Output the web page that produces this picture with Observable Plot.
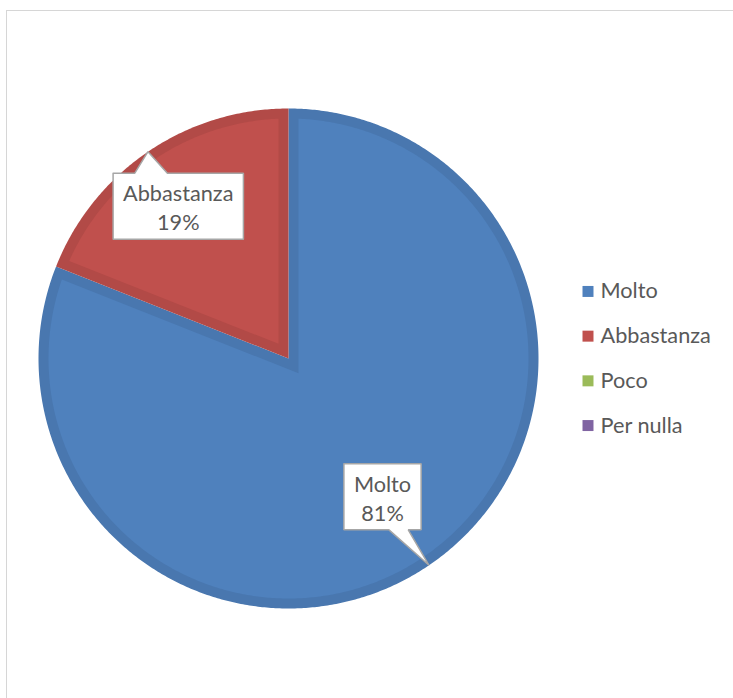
<!DOCTYPE html>
<html><head><meta charset="utf-8">
<script src="https://cdn.jsdelivr.net/npm/d3@7"></script>
<script src="https://cdn.jsdelivr.net/npm/@observablehq/plot@0.6"></script>
<style>
html,body{margin:0;padding:0;background:#fff;overflow:hidden;width:733px;height:698px;}
#frame{position:absolute;left:6px;top:10px;width:900px;height:900px;border:1px solid #d6d6d6;}
#chart{position:absolute;left:0;top:0;}
</style></head><body>
<div id="frame"></div><div id="chart"></div>
<script>
// ---- data ----
const categories = ["Molto", "Abbastanza", "Poco", "Per nulla"];
const values = [81, 19, 0, 0];
const colors = ["#4f81bd", "#c0504d", "#9bbb59", "#8064a2"];

// ---- layout / style ----
const W = 733, H = 698;
const cx = 288, cy = 358, R = 250, inset = 10;
const FONT = "Lato, 'Open Sans', sans-serif", FS = 21.7, TEXT = "#595959";
const labelPlace = {Molto: {r: 0.669, da: 0}, Abbastanza: {r: 0.752, da: -1.7}};
const legendX = 587.5, legendTextX = 600, legendGap = 44.7, legendSq = 6.2;

const total = d3.sum(values);
const data = categories.map((c, i) => ({key: c, value: values[i], color: colors[i]}));
const arcs = d3.pie().sort(null).value(d => d.value)(data);

const pt = (a, r) => [cx + r * Math.sin(a), cy - r * Math.cos(a)];
const step = Math.PI / 360;

const outer = [], inner = [];
for (const a of arcs) {
  if (a.data.value <= 0) continue;
  const a0 = a.startAngle, a1 = a.endAngle, k = a.data.key;
  const darker = d3.color(a.data.color).darker(0.22).formatHex();
  const o = [pt(0, 0)];
  for (let t = a0; t < a1; t += step) o.push(pt(t, R));
  o.push(pt(a1, R));
  o.forEach(([x, y]) => outer.push({k, x, y, c: darker}));
  const rho = R - inset, d0 = Math.asin(inset / rho);
  const mid = (a0 + a1) / 2, half = (a1 - a0) / 2;
  const n = [pt(mid, inset / Math.sin(half))];
  for (let t = a0 + d0; t < a1 - d0; t += step) n.push(pt(t, rho));
  n.push(pt(a1 - d0, rho));
  n.forEach(([x, y]) => inner.push({k, x, y, c: a.data.color}));
}

// callouts
const ctx = document.createElement("canvas").getContext("2d");
ctx.font = `${FS}px ${FONT}`;
const callouts = [], labels = [];
for (const a of arcs) {
  if (a.data.value <= 0) continue;
  const k = a.data.key;
  const txt = `${k}\n${Math.round(a.data.value / total * 100)}%`;
  const mid = (a.startAngle + a.endAngle) / 2;
  const [tx, ty] = pt(mid, R);
  const pl = labelPlace[k];
  const [bx, by] = pt(mid + pl.da * Math.PI / 180, R * pl.r);
  const w = d3.max(txt.split("\n"), s => ctx.measureText(s).width) + 20;
  const h = 66;
  const x0 = bx - w / 2, x1 = bx + w / 2, y0 = by - h / 2, y1 = by + h / 2;
  const dx = (tx - bx) / w, dy = (ty - by) / h;
  let poly;
  if (Math.abs(dy) >= Math.abs(dx)) {
    const [f0, f1] = tx < bx ? [2 / 12, 5 / 12] : [7 / 12, 10 / 12];
    const b0 = x0 + f0 * w, b1 = x0 + f1 * w;
    poly = dy < 0
      ? [[x0, y0], [b0, y0], [tx, ty], [b1, y0], [x1, y0], [x1, y1], [x0, y1], [x0, y0]]
      : [[x0, y0], [x1, y0], [x1, y1], [b1, y1], [tx, ty], [b0, y1], [x0, y1], [x0, y0]];
  } else {
    const [f0, f1] = ty < by ? [2 / 12, 5 / 12] : [7 / 12, 10 / 12];
    const b0 = y0 + f0 * h, b1 = y0 + f1 * h;
    poly = dx < 0
      ? [[x0, y0], [x1, y0], [x1, y1], [x0, y1], [x0, b1], [tx, ty], [x0, b0], [x0, y0]]
      : [[x0, y0], [x1, y0], [x1, b0], [tx, ty], [x1, b1], [x1, y1], [x0, y1], [x0, y0]];
  }
  poly.forEach(([x, y]) => callouts.push({k, x, y}));
  labels.push({k, x: bx, y: by, txt});
}

const legend = data.map((d, i) => ({...d, y: cy + (i - (data.length - 1) / 2) * legendGap}));

const chart = Plot.plot({
  width: W, height: H, margin: 0,
  x: {domain: [0, W], range: [0, W], axis: null},
  y: {domain: [0, H], range: [0, H], axis: null},
  color: {type: "identity"},
  style: {fontFamily: FONT, background: "transparent"},
  marks: [
    Plot.line(outer, {x: "x", y: "y", z: "k", fill: "c", stroke: "none", curve: "linear"}),
    Plot.line(inner, {x: "x", y: "y", z: "k", fill: "c", stroke: "none", curve: "linear"}),
    Plot.line(callouts, {x: "x", y: "y", z: "k", fill: "white", stroke: "#a6a6a6", strokeWidth: 1.5, strokeLinejoin: "miter", curve: "linear"}),
    Plot.text(labels, {x: "x", y: "y", text: "txt", fontSize: FS, fill: TEXT, lineHeight: 1.34, lineAnchor: "middle", textAnchor: "middle"}),
    Plot.dot(legend, {x: () => legendX, y: "y", symbol: "square", r: legendSq, fill: "color", stroke: "none"}),
    Plot.text(legend, {x: () => legendTextX, y: "y", text: "key", fontSize: FS, fill: TEXT, textAnchor: "start", lineAnchor: "middle"})
  ]
});
document.getElementById("chart").appendChild(chart);
</script>
</body></html>
